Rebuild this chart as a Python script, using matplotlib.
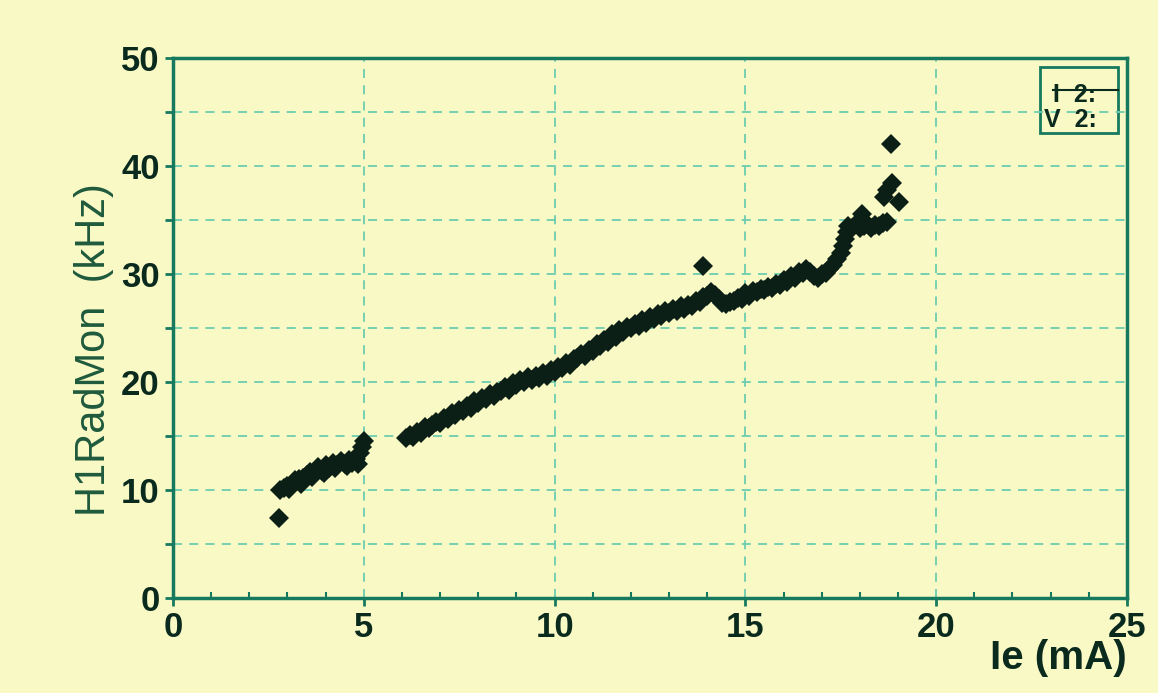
import numpy as np
from matplotlib import pyplot as plt
from matplotlib.patches import Rectangle
from matplotlib.ticker import MultipleLocator

plt.rcParams["font.family"] = ["Liberation Sans", "DejaVu Sans"]

# beam current (mA) and rad monitor rate (kHz)
ie_low = [2.78, 2.80, 2.9, 3.0, 3.1, 3.2, 3.3, 3.4, 3.5, 3.6, 3.7, 3.8, 3.9,
          4.0, 4.1, 4.2, 4.3, 4.4, 4.5, 4.6, 4.7, 4.8, 4.9, 4.95, 5.0,
          3.05, 3.35, 3.65, 3.95, 4.25, 4.55, 4.85]
rate_low = [7.4, 10.0, 10.2, 10.4, 10.5, 10.9, 11.0, 11.1, 11.4, 11.7, 11.5, 12.1, 11.8,
            12.3, 12.0, 12.5, 12.3, 12.7, 12.4, 12.8, 12.5, 12.9, 13.4, 14.0, 14.5,
            10.1, 10.6, 11.2, 11.6, 12.0, 12.2, 12.4]

ie_main = [6.1, 6.2, 6.3, 6.4, 6.5, 6.6, 6.7, 6.8, 6.9, 7.0,
           7.1, 7.2, 7.3, 7.4, 7.5, 7.6, 7.7, 7.8, 7.9, 8.0,
           8.1, 8.2, 8.3, 8.4, 8.5, 8.6, 8.7, 8.8, 8.9, 9.0,
           9.1, 9.2, 9.3, 9.4, 9.5, 9.6, 9.7, 9.8, 9.9, 10.0,
           10.1, 10.2, 10.3, 10.4, 10.5, 10.6, 10.7, 10.8, 10.9, 11.0,
           11.1, 11.2, 11.3, 11.4, 11.5, 11.6, 11.7, 11.8, 11.9, 12.0,
           12.1, 12.2, 12.3, 12.4, 12.5, 12.6, 12.7, 12.8, 12.9, 13.0,
           13.1, 13.2, 13.3, 13.4, 13.5, 13.6, 13.7, 13.8, 13.9, 14.0,
           14.1, 14.2, 14.3, 14.4, 14.5, 14.6, 14.7, 14.8, 14.9, 15.0,
           15.1, 15.2, 15.3, 15.4, 15.5, 15.6, 15.7, 15.8, 15.9, 16.0,
           16.1, 16.2, 16.3, 16.4, 16.5, 16.6, 16.7, 16.8, 16.9, 17.0,
           17.1, 17.2, 17.3, 17.4, 17.5, 17.55, 17.6, 17.65, 17.7, 17.8,
           17.9, 18.0, 18.1, 18.2, 18.3, 18.4, 18.5, 18.6, 18.7]
rate_main = [14.8, 15.1, 14.9, 15.4, 15.3, 15.8, 15.7, 16.0, 16.3, 16.2,
             16.7, 16.6, 17.1, 16.9, 17.4, 17.3, 17.8, 17.6, 18.2, 18.1,
             18.5, 18.4, 18.9, 18.7, 19.1, 19.2, 19.5, 19.3, 19.9, 19.7,
             20.2, 20.0, 20.5, 20.2, 20.6, 20.4, 20.8, 20.6, 21.1, 20.9,
             21.4, 21.3, 21.8, 21.6, 22.1, 22.2, 22.6, 22.4, 23.0, 22.9,
             23.5, 23.3, 23.9, 23.7, 24.4, 24.2, 24.8, 24.6, 25.1, 25.0,
             25.4, 25.2, 25.7, 25.5, 26.0, 25.8, 26.3, 26.1, 26.6, 26.4,
             26.8, 26.6, 27.0, 26.8, 27.1, 27.0, 27.5, 27.4, 27.9, 28.0,
             28.3, 28.1, 27.7, 27.3, 27.2, 27.4, 27.5, 27.8, 27.7, 28.2,
             28.0, 28.4, 28.3, 28.6, 28.5, 28.8, 28.7, 29.1, 29.0, 29.4,
             29.3, 29.8, 29.6, 30.2, 30.1, 30.5, 30.2, 29.8, 29.6, 30.0,
             30.1, 30.5, 30.8, 31.4, 31.9, 32.6, 33.2, 33.9, 34.4, 34.3,
             34.6, 34.3, 34.4, 34.6, 34.3, 34.5, 34.4, 34.7, 34.8]

ie_out = [13.88, 18.05, 18.63, 18.72, 18.85, 19.03, 18.82]
rate_out = [30.7, 35.6, 37.1, 37.8, 38.4, 36.7, 42.0]

bg = "#f9f9c6"
teal = "#177a5e"
gridc = "#6ccdb0"

fig = plt.figure(figsize=(11.58, 6.93), dpi=100, facecolor=bg)
ax = fig.add_axes([0.1494, 0.1371, 0.8238, 0.7792], facecolor=bg)

for xs, ys in [(ie_low, rate_low), (ie_main, rate_main), (ie_out, rate_out)]:
    ax.plot(xs, ys, linestyle="none", marker="D", markersize=10,
            color="#0c1f16", markeredgewidth=0)

ax.set_xlim(0, 25)
ax.set_ylim(0, 50)
ax.xaxis.set_major_locator(MultipleLocator(5))
ax.xaxis.set_minor_locator(MultipleLocator(1))
ax.yaxis.set_major_locator(MultipleLocator(10))
ax.yaxis.set_minor_locator(MultipleLocator(5))
ax.grid(axis="x", which="major", color=gridc, linestyle=(0, (5, 4)), linewidth=1.3)
ax.grid(axis="y", which="both", color=gridc, linestyle=(0, (5, 4)), linewidth=1.3)

for s in ax.spines.values():
    s.set_color(teal)
    s.set_linewidth(2.5)

ax.tick_params(axis="both", which="major", labelsize=25, colors=teal,
               labelcolor="#0b2a1e", length=6, width=2)
ax.tick_params(axis="x", which="minor", direction="in", length=4, width=1.5, colors=teal)
ax.tick_params(axis="y", which="minor", length=6, width=2, colors=teal)
for lab in ax.get_xticklabels() + ax.get_yticklabels():
    lab.set_fontweight("bold")

ax.set_ylabel("H1RadMon  (kHz)", fontsize=30, color="#1f5a3c")
ax.yaxis.set_label_coords(-0.062, 0.46)
ax.set_xlabel("Ie (mA)", fontsize=29, fontweight="bold", color="#0b2a1e",
              loc="right", labelpad=-4)

# small legend box in the corner
ax.add_patch(Rectangle((0.909, 0.862), 0.082, 0.121, transform=ax.transAxes,
                       fill=False, edgecolor=teal, linewidth=2))
ax.plot([0.922, 0.991], [0.941, 0.941], transform=ax.transAxes,
        color="#0b2a1e", linewidth=1.5)
ax.text(0.922, 0.931, "I  2:", transform=ax.transAxes, fontsize=18,
        fontweight="bold", color="#0b2a1e", va="center")
ax.text(0.913, 0.885, "V  2:", transform=ax.transAxes, fontsize=18,
        fontweight="bold", color="#0b2a1e", va="center")

fig.savefig("out.png", dpi=100, facecolor=bg)
